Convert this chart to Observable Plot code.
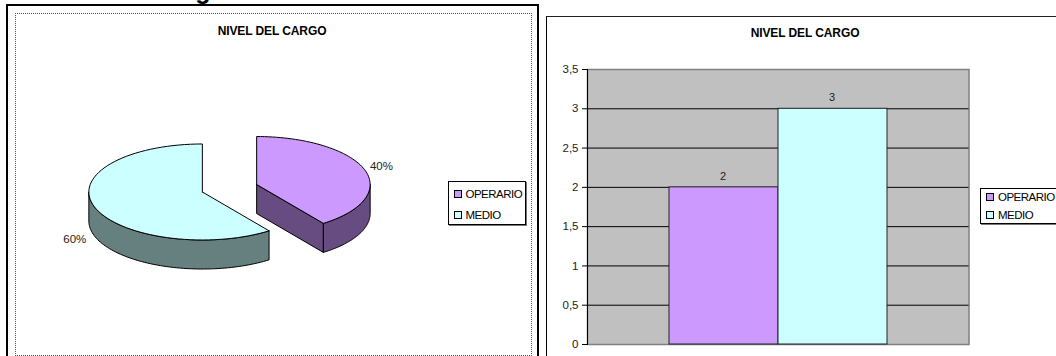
<!DOCTYPE html>
<html>
<head>
<meta charset="utf-8">
<script src="https://cdn.jsdelivr.net/npm/d3@7"></script>
<script src="https://cdn.jsdelivr.net/npm/@observablehq/plot@0.6"></script>
<style>
  html, body { margin: 0; padding: 0; background: #fff; overflow: hidden; }
  #page { position: relative; width: 1056px; height: 356px; overflow: hidden;
          font-family: "Liberation Sans", Arial, sans-serif; color: #000; }
  #page > * { position: absolute; box-sizing: border-box; }
  svg { display: block; background: transparent; }
  .heading { font-weight: bold; font-size: 12px; line-height: 12px; letter-spacing: -0.1px; text-align: center; white-space: nowrap; }
  .legend { background: #fff; border: 1px solid #000; box-shadow: 1px 1px 0 #777; }
  .legend div { position: absolute; left: 0; white-space: nowrap; font-size: 11.5px; line-height: 12px; letter-spacing: -0.5px; }
  .legend i { display: inline-block; width: 6px; height: 6px; border: 1px solid #000; margin: 0 4px 0 5px; vertical-align: 0; }
</style>
</head>
<body>
<div id="page"></div>
<script>
// Job level of the staff: head counts per category
const categories = ["OPERARIO", "MEDIO"];
const counts = [2, 3];
const topColors = ["#cc99ff", "#ccffff"];
const sideColors = ["#664c80", "#668080"];
const yTicks = [0, 0.5, 1, 1.5, 2, 2.5, 3, 3.5];
const chartTitle = "NIVEL DEL CARGO";

const page = document.getElementById("page");
const total = d3.sum(counts);
const rows = categories.map((name, i) => ({name, count: counts[i], share: counts[i] / total}));

function place(el, left, top, width, height) {
  Object.assign(el.style, {left: left + "px", top: top + "px"});
  if (width != null) el.style.width = width + "px";
  if (height != null) el.style.height = height + "px";
  return el;
}
function box(left, top, width, height, css) {
  const el = document.createElement("div");
  el.style.cssText = css;
  page.appendChild(place(el, left, top, width, height));
  return el;
}
function heading(text, left, top, width) {
  const el = box(left, top, width, 12, "");
  el.className = "heading";
  el.textContent = text;
}
function legend(left, top, width, height, firstRow, rowGap) {
  const el = box(left, top, width, height, "");
  el.className = "legend";
  rows.forEach((r, i) => {
    const row = document.createElement("div");
    row.style.top = firstRow + i * rowGap + "px";
    const key = document.createElement("i");
    key.style.background = topColors[i];
    row.append(key, r.name);
    el.appendChild(row);
  });
}

// Frames around both charts
box(6, 4, 533, 360, "border:2.5px solid #000;border-bottom:none");
box(14.5, 12.5, 517, 343.5, "border:1.5px dotted #555");
box(545.5, 15.5, 520, 360, "border:1px solid #000;border-top:1.5px solid #222");

// Descender of the section heading running off the top edge
const clipped = box(188, -25, 30, 30, "font-weight:bold;font-size:25px;line-height:30px;text-align:center");
clipped.textContent = "g";

// Exploded 3D pie, built in unit-circle coordinates: angles run clockwise from 12 o'clock
const depth = 0.605;
const explode = 0.2515;
const point = (cx, cy, a, drop = 0) => ({x: cx + Math.sin(a), y: cy + Math.cos(a) - drop});
const TAU = 2 * Math.PI;

function arc(cx, cy, a0, a1, drop = 0) {
  return d3.range(0, 73).map(k => point(cx, cy, a0 + (a1 - a0) * k / 72, drop));
}

let start = 0;
const slices = rows.map((r, i) => {
  const a0 = start, a1 = start + r.share * TAU;
  start = a1;
  const mid = (a0 + a1) / 2;
  return {...r, i, a0, a1, mid, cx: Math.sin(mid) * explode, cy: Math.cos(mid) * explode};
});

function slicePolygons(s) {
  const {cx, cy, a0, a1} = s;
  const out = [];
  // Outer wall: only the part of the rim on the near side of the pie
  const w0 = Math.max(a0, Math.PI / 2), w1 = Math.min(a1, 3 * Math.PI / 2);
  if (w1 > w0) out.push({color: sideColors[s.i], pts: [...arc(cx, cy, w0, w1), ...arc(cx, cy, w1, w0, depth)]});
  // Cut face: visible for a radial edge that looks towards the viewer
  if (a1 < Math.PI) {
    const tip = point(cx, cy, a1), tipLow = point(cx, cy, a1, depth);
    out.unshift({color: sideColors[s.i], pts: [{x: cx, y: cy}, tip, tipLow, {x: cx, y: cy - depth}]});
  }
  out.push({color: topColors[s.i], pts: [{x: cx, y: cy}, ...arc(cx, cy, a0, a1)]});
  return out;
}

const closed = pts => [...pts, pts[0]];
const drawOrder = [slices[1], slices[0]];
const pieMarks = drawOrder.flatMap(s => slicePolygons(s).map(p =>
  Plot.line(closed(p.pts), {x: "x", y: "y", fill: p.color, stroke: "#000", strokeWidth: 1, curve: "linear"})
));

// Percent labels sit just outside the rim of each slice
const pieLabels = [
  {slice: slices[0], a: 1.32, r: 1.135, dy: 0.105},
  {slice: slices[1], a: 4.16, r: 1.32, dy: -0.29}
].map(({slice, a, r, dy}) => ({
  x: slice.cx + Math.sin(a) * r,
  y: slice.cy + Math.cos(a) * r + dy,
  text: d3.format(".0%")(slice.share)
}));

const pie = Plot.plot({
  width: 540, height: 356,
  marginTop: 0, marginRight: 0, marginBottom: 0, marginLeft: 0,
  x: {domain: [-1, 1], range: [229 - 113.5, 229 + 113.5], axis: null},
  y: {domain: [-1, 1], range: [187.75 + 48, 187.75 - 48], axis: null},
  marks: [
    ...pieMarks,
    Plot.text(pieLabels, {x: "x", y: "y", text: "text", fontSize: 11.5, fill: "#222", fontFamily: "Liberation Sans, Arial, sans-serif", letterSpacing: -0.3})
  ]
});
place(pie, 0, 0);
page.appendChild(pie);
heading(chartTitle, 172, 25, 200);
legend(447.5, 181, 78, 43.5, 5.5, 21.5);

// Column chart of the same head counts
const bars = Plot.plot({
  width: 526, height: 356,
  marginTop: 69, marginRight: 87.5, marginBottom: 12, marginLeft: 57,
  style: {fontFamily: "Liberation Sans, Arial, sans-serif", fontSize: "11.5px", color: "#222"},
  x: {domain: categories, paddingInner: 0, paddingOuter: 0.74, axis: null, label: null},
  y: {domain: [0, 3.5], ticks: yTicks, label: null},
  color: {domain: categories, range: topColors},
  marks: [
    Plot.frame({fill: "#c0c0c0", stroke: "#808080", strokeWidth: 1.5}),
    Plot.gridY(yTicks.slice(1, -1), {stroke: "#000", strokeOpacity: 1, strokeWidth: 1}),
    Plot.frame({anchor: "left", stroke: "#000", strokeWidth: 1}),
    Plot.axisY(yTicks, {anchor: "left", tickSize: 5, tickPadding: 4, stroke: "#000", label: null, tickFormat: d => String(d).replace(".", ",")}),
    Plot.barY(rows, {x: "name", y: "count", fill: "name", stroke: "#222", strokeWidth: 1}),
    Plot.text(rows, {x: "name", y: "count", text: "count", dy: -11, dx: -1, fontSize: 11, fill: "#222"})
  ]
});
place(bars, 530, 0);
page.appendChild(bars);
heading(chartTitle, 705, 27, 200);
legend(980, 188, 90, 36, 2, 18);
</script>
</body>
</html>
